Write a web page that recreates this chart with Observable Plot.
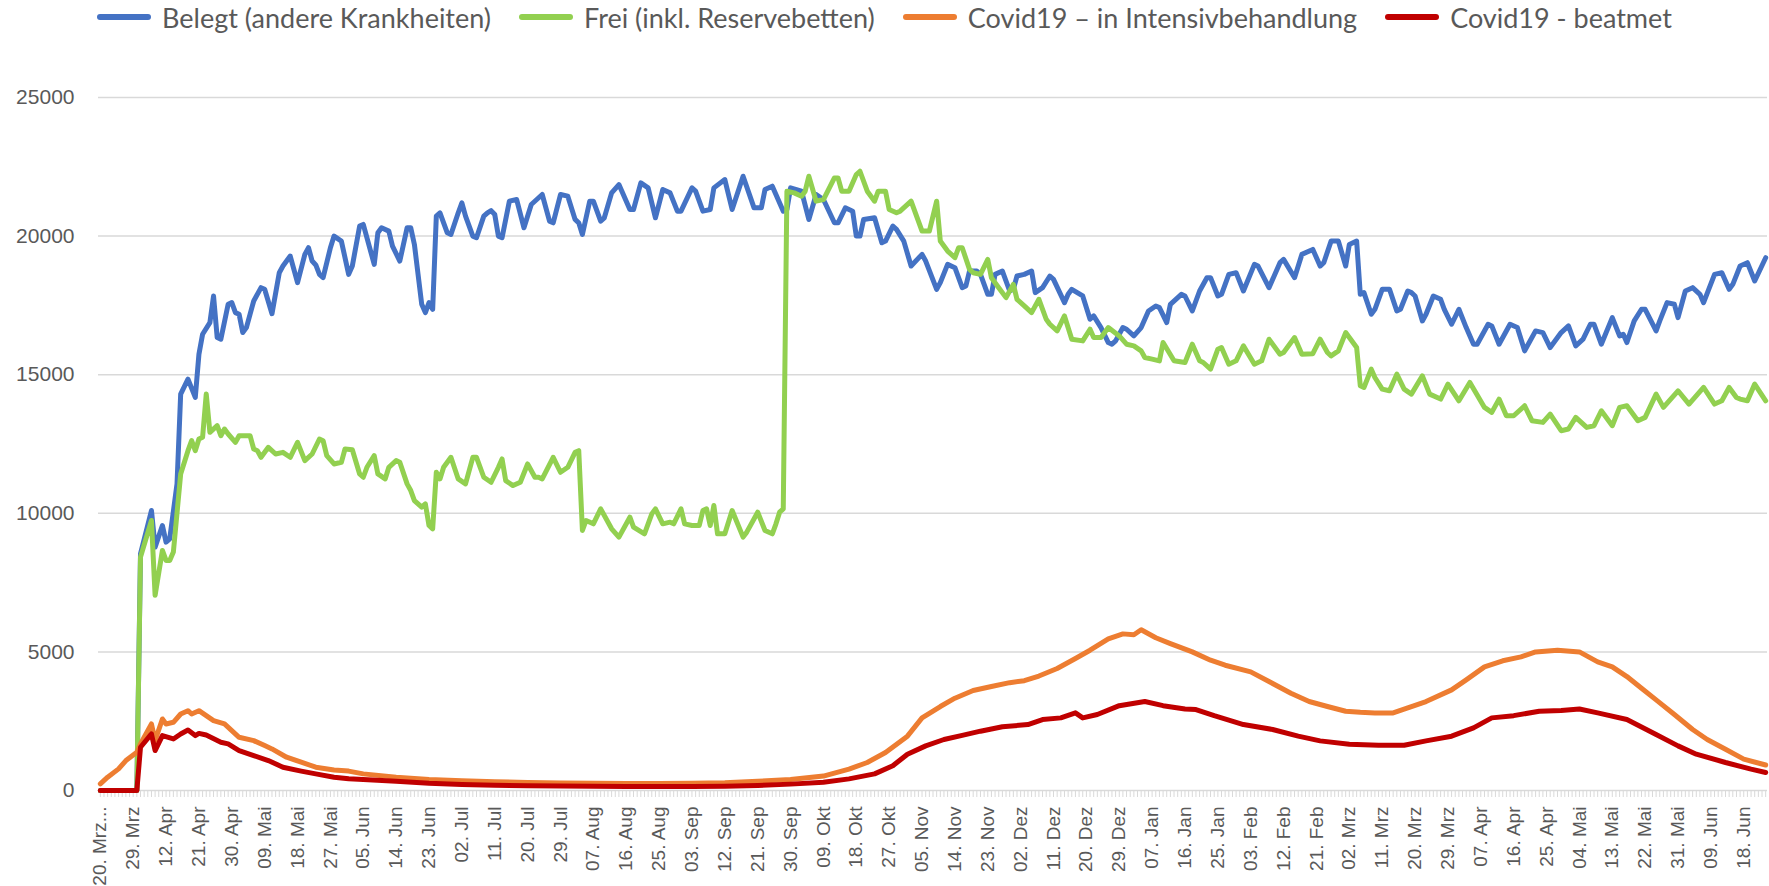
<!DOCTYPE html>
<html>
<head>
<meta charset="utf-8">
<script src="https://cdn.jsdelivr.net/npm/d3@7"></script>
<script src="https://cdn.jsdelivr.net/npm/@observablehq/plot@0.6"></script>
<style>
  html, body { margin: 0; padding: 0; background: #fff; overflow: hidden; }
  #legend { height: 34px; display: flex; justify-content: center; align-items: center;
            font-family: Lato, "Open Sans", sans-serif; font-size: 27px; color: #595959; width: 1769px; }
  .item { display: flex; align-items: center; margin: 0 14px; white-space: nowrap; }
  .sw { display: inline-block; width: 54px; height: 6px; border-radius: 3px; margin-right: 11px; }
  #chart svg { display: block; }
</style>
</head>
<body>
<div id="legend"></div>
<div id="chart"></div>
<script>
// ---- categories / ticks ----
const nCategories = 457;           // daily categories, 20. Mrz 2020 ... 24. Jun 2021
const tickStep = 9;
const tickLabels = ["20. Mrz...","29. Mrz","12. Apr","21. Apr","30. Apr","09. Mai","18. Mai","27. Mai","05. Jun","14. Jun","23. Jun","02. Jul","11. Jul","20. Jul","29. Jul","07. Aug","16. Aug","25. Aug","03. Sep","12. Sep","21. Sep","30. Sep","09. Okt","18. Okt","27. Okt","05. Nov","14. Nov","23. Nov","02. Dez","11. Dez","20. Dez","29. Dez","07. Jan","16. Jan","25. Jan","03. Feb","12. Feb","21. Feb","02. Mrz","11. Mrz","20. Mrz","29. Mrz","07. Apr","16. Apr","25. Apr","04. Mai","13. Mai","22. Mai","31. Mai","09. Jun","18. Jun"];
const yTicks = [0, 5000, 10000, 15000, 20000, 25000];

// ---- series: [category index, value] ----
const belegt = [[0,0],[10,0],[11,8540],[14,10100],[15,8780],[17,9560],[18,8960],[19,9080],[21,11060],[22,14300],[24,14840],[26,14180],[27,15740],[28,16460],[30,16880],[31,17840],[32,16340],[33,16280],[35,17540],[36,17600],[37,17240],[38,17180],[39,16520],[40,16700],[42,17660],[44,18140],[45,18080],[47,17200],[49,18680],[50,18920],[51,19100],[52,19280],[54,18320],[56,19340],[57,19580],[58,19100],[59,18960],[60,18620],[61,18500],[63,19580],[64,20000],[66,19820],[68,18620],[69,18920],[71,20360],[72,20420],[75,18980],[76,20120],[77,20300],[79,20180],[80,19640],[82,19100],[84,20300],[85,20300],[86,19700],[88,17540],[89,17240],[90,17600],[91,17360],[92,20720],[93,20840],[95,20120],[96,20060],[98,20840],[99,21200],[100,20720],[102,20000],[103,19940],[105,20720],[106,20840],[107,20920],[108,20780],[109,20000],[110,19940],[112,21260],[114,21320],[116,20300],[118,21140],[121,21500],[123,20540],[124,20480],[126,21500],[128,21440],[130,20600],[131,20480],[132,20060],[134,21260],[135,21260],[137,20540],[138,20660],[140,21560],[142,21860],[145,20960],[146,20960],[148,21920],[150,21740],[152,20660],[154,21680],[156,21560],[158,20900],[159,20900],[162,21740],[163,21620],[165,20900],[167,20960],[168,21740],[171,22040],[173,20960],[176,22160],[179,21020],[181,21020],[182,21680],[184,21800],[187,20900],[188,20960],[189,21740],[192,21620],[194,20600],[196,21500],[198,21320],[201,20480],[202,20480],[204,21020],[206,20900],[207,20000],[208,20000],[209,20600],[212,20660],[214,19760],[215,19820],[217,20360],[218,20240],[220,19820],[222,18920],[225,19340],[226,19100],[229,18080],[230,18320],[232,18980],[234,18860],[236,18140],[237,18200],[238,18740],[240,18740],[241,18620],[243,17900],[244,17900],[245,18620],[247,18740],[249,18020],[250,18080],[251,18560],[253,18620],[255,18740],[256,17960],[258,18140],[260,18560],[261,18440],[264,17600],[265,17900],[266,18080],[269,17840],[271,17000],[272,17120],[274,16700],[276,16160],[277,16100],[278,16220],[280,16700],[281,16640],[283,16400],[285,16700],[287,17300],[289,17480],[290,17420],[292,16880],[293,17540],[296,17900],[297,17840],[299,17300],[301,18020],[303,18500],[304,18500],[306,17840],[307,17900],[309,18620],[311,18680],[313,18020],[316,18980],[317,18920],[320,18140],[323,19040],[324,19160],[327,18500],[329,19340],[332,19520],[334,18920],[335,19040],[337,19820],[339,19820],[341,18920],[342,19700],[343,19760],[344,19820],[345,17900],[346,17960],[348,17180],[349,17360],[351,18080],[353,18080],[355,17300],[356,17360],[358,18020],[359,17960],[360,17840],[362,16940],[363,17180],[365,17840],[367,17720],[368,17360],[370,16820],[372,17360],[374,16700],[376,16100],[377,16100],[380,16820],[381,16760],[383,16100],[386,16820],[388,16700],[390,15860],[393,16580],[395,16520],[397,15980],[400,16520],[402,16760],[404,16040],[406,16280],[408,16820],[409,16820],[411,16100],[414,17060],[416,16400],[417,16460],[418,16160],[420,16940],[422,17360],[423,17360],[426,16580],[427,16940],[429,17600],[431,17540],[432,17060],[434,18020],[436,18140],[438,17900],[439,17600],[442,18620],[444,18680],[446,18080],[447,18260],[449,18920],[451,19040],[453,18380],[456,19220]];

const frei = [[0,0],[10,0],[11,8420],[14,9740],[15,7040],[17,8660],[18,8300],[19,8300],[20,8600],[22,11420],[24,12260],[25,12620],[26,12260],[27,12680],[28,12740],[29,14300],[30,12920],[32,13160],[33,12800],[34,13040],[35,12860],[37,12560],[38,12800],[39,12800],[41,12800],[42,12320],[43,12260],[44,12020],[45,12200],[46,12380],[48,12140],[50,12200],[52,12020],[54,12560],[56,11900],[58,12140],[60,12680],[61,12620],[62,12080],[64,11780],[66,11840],[67,12320],[69,12290],[71,11420],[72,11300],[73,11660],[75,12080],[76,11420],[78,11240],[79,11660],[81,11900],[82,11840],[84,11060],[85,10820],[86,10460],[88,10220],[89,10340],[90,9560],[91,9440],[92,11480],[93,11240],[94,11660],[96,12020],[98,11240],[100,11060],[102,12020],[103,12020],[105,11300],[107,11120],[109,11660],[110,11960],[111,11180],[113,11000],[115,11120],[117,11780],[119,11300],[120,11300],[121,11240],[124,12020],[126,11480],[128,11660],[130,12200],[131,12260],[132,9380],[133,9740],[135,9620],[137,10160],[140,9440],[142,9140],[145,9860],[146,9500],[149,9260],[151,9980],[152,10160],[154,9620],[156,9680],[157,9620],[159,10160],[160,9620],[162,9560],[164,9560],[165,10100],[166,10160],[167,9560],[168,10280],[169,9260],[171,9260],[173,10100],[176,9140],[177,9320],[180,10040],[182,9380],[184,9260],[185,9620],[186,10040],[187,10160],[188,21620],[190,21560],[192,21440],[193,21620],[194,22160],[196,21260],[198,21320],[201,22100],[202,22100],[203,21620],[205,21620],[207,22220],[208,22340],[210,21620],[212,21260],[213,21620],[215,21620],[216,20960],[218,20840],[219,20900],[222,21260],[224,20540],[225,20180],[227,20180],[229,21260],[230,19820],[232,19460],[234,19220],[235,19580],[236,19580],[238,18800],[239,18680],[241,18620],[243,19160],[244,18500],[246,18140],[248,17780],[250,18260],[251,17720],[253,17480],[255,17240],[257,17720],[259,17000],[260,16820],[262,16580],[264,17120],[266,16280],[269,16220],[271,16640],[272,16340],[274,16340],[276,16700],[279,16400],[281,16100],[283,16040],[285,15860],[286,15620],[288,15560],[290,15500],[291,16160],[294,15500],[297,15440],[299,16100],[301,15500],[302,15440],[304,15200],[306,15920],[307,15980],[309,15380],[311,15500],[313,16040],[316,15380],[318,15500],[320,16280],[323,15740],[324,15800],[327,16340],[329,15740],[332,15760],[334,16280],[336,15800],[337,15680],[339,15860],[341,16520],[342,16340],[344,15980],[345,14600],[346,14540],[348,15200],[349,14900],[351,14480],[353,14420],[355,15020],[357,14480],[359,14300],[362,14960],[364,14300],[367,14120],[369,14660],[372,14060],[375,14720],[379,13820],[381,13640],[383,14120],[385,13520],[387,13520],[390,13880],[392,13340],[395,13280],[397,13580],[400,12980],[402,13040],[404,13460],[407,13100],[409,13160],[411,13700],[414,13160],[416,13820],[418,13880],[421,13340],[423,13460],[426,14300],[428,13820],[432,14420],[435,13940],[439,14540],[442,13940],[444,14060],[446,14540],[448,14180],[449,14120],[451,14060],[453,14660],[456,14060]];

const intensiv = [[0,240],[2,480],[5,780],[7,1080],[10,1380],[11,1680],[14,2400],[15,1800],[17,2580],[18,2400],[20,2460],[22,2760],[24,2880],[25,2760],[27,2880],[29,2700],[31,2520],[34,2400],[36,2160],[38,1920],[42,1800],[45,1620],[47,1500],[51,1200],[55,1020],[59,840],[64,740],[68,700],[72,600],[81,480],[90,400],[99,350],[108,320],[117,290],[126,270],[135,260],[144,250],[153,250],[162,260],[171,280],[180,330],[189,400],[198,520],[205,770],[210,1010],[215,1370],[221,1960],[225,2620],[230,3030],[234,3330],[239,3610],[244,3750],[249,3890],[253,3960],[257,4130],[262,4400],[267,4760],[271,5060],[276,5470],[280,5650],[283,5620],[285,5800],[289,5510],[293,5300],[299,5000],[304,4700],[308,4520],[315,4280],[320,3930],[326,3510],[331,3210],[336,3030],[341,2860],[345,2820],[349,2800],[354,2800],[358,2980],[363,3210],[370,3630],[374,3990],[379,4460],[384,4680],[389,4820],[393,5000],[399,5060],[405,5000],[410,4640],[414,4460],[418,4110],[422,3690],[426,3270],[431,2740],[436,2200],[440,1840],[445,1490],[450,1130],[456,920]];

const beatmet = [[0,0],[10,0],[11,1560],[14,2040],[15,1440],[17,1980],[20,1860],[22,2040],[24,2180],[26,1980],[27,2060],[29,2000],[33,1740],[35,1680],[38,1440],[42,1260],[46,1080],[50,840],[55,700],[59,600],[64,480],[68,420],[72,400],[81,330],[90,260],[99,220],[108,190],[117,170],[126,160],[135,150],[144,140],[153,140],[162,140],[171,150],[180,180],[189,230],[198,300],[205,420],[212,600],[217,890],[221,1310],[226,1610],[231,1840],[236,1990],[241,2140],[247,2300],[254,2380],[258,2560],[263,2620],[267,2800],[269,2620],[273,2740],[279,3060],[286,3210],[291,3060],[297,2940],[300,2920],[305,2700],[313,2380],[321,2200],[328,1960],[334,1790],[342,1670],[350,1630],[357,1630],[363,1790],[370,1960],[376,2260],[381,2620],[387,2700],[394,2860],[400,2890],[405,2940],[410,2800],[418,2560],[426,2020],[432,1610],[437,1310],[445,1010],[452,770],[456,650]];

const seriesNames = ["Belegt (andere Krankheiten)", "Frei (inkl. Reservebetten)", "Covid19 – in Intensivbehandlung", "Covid19 - beatmet"];
const seriesColors = ["#4472C4", "#92D050", "#ED7D31", "#C00000"];
const seriesData = [belegt, frei, intensiv, beatmet];

// ---- legend ----
const legend = document.getElementById("legend");
seriesNames.forEach((name, k) => {
  const it = document.createElement("div");
  it.className = "item";
  const sw = document.createElement("span");
  sw.className = "sw";
  sw.style.background = seriesColors[k];
  const tx = document.createElement("span");
  tx.textContent = name;
  it.appendChild(sw); it.appendChild(tx);
  legend.appendChild(it);
});

// ---- chart ----
const tickIdx = tickLabels.map((_, k) => k * tickStep);
const allIdx = d3.range(nCategories);

const lineMarks = seriesData.map((data, k) =>
  Plot.line(data, {x: d => d[0], y: d => d[1], stroke: seriesColors[k], strokeWidth: 5,
                   strokeLinejoin: "round", strokeLinecap: "round"}));

const chart = Plot.plot({
  width: 1769,
  height: 852,
  marginLeft: 98,
  marginRight: 2,
  marginTop: 63,
  marginBottom: 96,
  style: {fontFamily: "'Liberation Sans', Arial, sans-serif", background: "#fff"},
  x: {type: "linear", domain: [-0.5, nCategories - 0.5], axis: null},
  y: {domain: [0, 25000], axis: null},
  marks: [
    Plot.ruleY(yTicks, {stroke: "#d9d9d9", strokeWidth: 1.5}),
    Plot.axisX(allIdx, {anchor: "bottom", tickSize: 7, fill: "none", stroke: "#d9d9d9", strokeWidth: 1, label: null}),
    Plot.axisX(tickIdx, {anchor: "bottom", tickSize: 0, tickPadding: 16, tickRotate: -90,
                         tickFormat: d => tickLabels[d / tickStep], fontSize: 19, fill: "#595959", label: null}),
    Plot.axisY(yTicks, {anchor: "left", tickSize: 0, tickPadding: 24, tickFormat: d => String(d),
                        fontSize: 21, fill: "#595959", label: null}),
    ...lineMarks
  ]
});
document.getElementById("chart").appendChild(chart);
</script>
</body>
</html>
